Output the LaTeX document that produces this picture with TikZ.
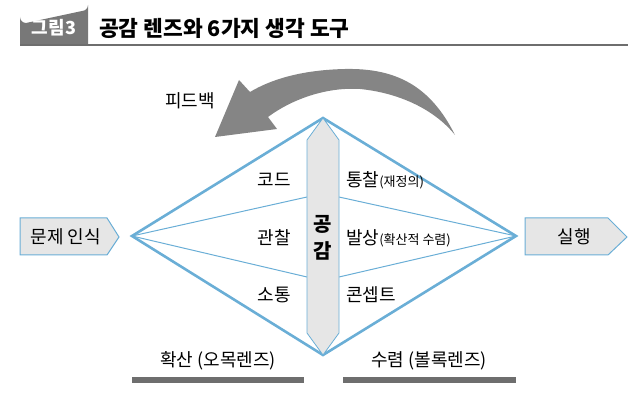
\documentclass[tikz,border=0pt]{standalone}
\usepackage{fontspec}
\setmainfont{Noto Sans CJK KR}
\definecolor{lensblue}{HTML}{6AAED6}
\definecolor{boxgray}{HTML}{E6E6E6}
\definecolor{arrowgray}{HTML}{858585}
\definecolor{tabgray}{HTML}{787878}
\definecolor{bargray}{HTML}{6E6E6E}
\newcommand\smalltxt{\fontsize{13}{15}\selectfont}
\tikzset{
  lbl/.style={inner sep=0pt, font=\fontsize{18}{20}\selectfont},
  sidebox/.style={fill=boxgray, draw=lensblue, line width=1pt},
  outerline/.style={draw=lensblue, line width=2.6pt, line join=miter},
  innerline/.style={draw=lensblue, line width=1pt},
  underbar/.style={draw=bargray, line width=6pt},
}
\begin{document}
\begin{tikzpicture}[x=1pt,y=-1pt]
\useasboundingbox (0,0) rectangle (640,414);
% title
\fill[tabgray] (20,44) -- (20,17) arc[start angle=180,end angle=90,radius=6] -- (82,11) arc[start angle=90,end angle=0,radius=6] -- (88,44) -- cycle;
\node[inner sep=0pt, text=white, font=\fontsize{18}{20}\selectfont\bfseries] (tab) at (54,28) {그림3};
\node[inner sep=0pt, anchor=west, font=\fontsize{21.5}{24}\selectfont\bfseries] (title) at (99,28) {공감 렌즈와 6가지 생각 도구};
\draw[draw=bargray, line width=1.6pt] (20,45) coordinate (tl) -- (628,45) coordinate (tr);
% diamond coordinates
\coordinate (L) at (132,236);
\coordinate (T) at (323,118);
\coordinate (R) at (516,236);
\coordinate (B) at (323,355);
\coordinate (ul) at (307,197);
\coordinate (bl) at (307,277);
\coordinate (ur) at (339,197);
\coordinate (br) at (339,277);
% feedback arrow
\fill[arrowgray] (455,135) .. controls (430,85) and (395,68) .. (345,69)
  .. controls (300,70) and (270,80) .. (250,92)
  -- (239,80) -- (215,137) -- (277,129) -- (268,117)
  .. controls (295,97) and (330,87) .. (360,89)
  .. controls (400,93) and (435,110) .. (455,135) -- cycle;
\node[lbl] (fb) at (190,101) {피드백};
% inner lines
\draw[innerline] (L) -- (ul);
\draw[innerline] (L) -- (bl);
\draw[innerline] (R) -- (ur);
\draw[innerline] (R) -- (br);
% outer diamond
\draw[outerline] (L) -- (T) -- (R) -- (B) -- cycle;
% central bar
\draw[fill=boxgray, draw=lensblue, line width=0.8pt] (T) -- (339,140) -- (339,333) -- (B) -- (307,333) -- (307,140) -- cycle;
\node[inner sep=0pt, font=\fontsize{20}{22}\selectfont\bfseries] (gong) at (323,224) {공};
\node[inner sep=0pt, font=\fontsize{20}{22}\selectfont\bfseries] (gam) at (323,251) {감};
% labels
\node[lbl] (code) at (274,180) {코드};
\node[lbl] (obs) at (274,238) {관찰};
\node[lbl] (comm) at (274,295) {소통};
\node[lbl, anchor=west] (insight) at (346,180) {통찰{\smalltxt(재정의)}};
\node[lbl, anchor=west] (idea) at (346,238) {발상{\smalltxt(확산적 수렴)}};
\node[lbl, anchor=west] (concept) at (346,295) {콘셉트};
% side boxes
\draw[sidebox] (20,218) -- (107,218) -- (119,237) -- (107,255) -- (20,255) -- cycle;
\node[lbl] (prob) at (66,237) {문제 인식};
\draw[sidebox] (525,218) -- (608,218) -- (627,237) -- (608,255) -- (525,255) -- cycle;
\node[lbl] (act) at (574,237) {실행};
% bottom
\node[lbl] (div) at (218,361) {확산 (오목렌즈)};
\node[lbl] (conv) at (429,361) {수렴 (볼록렌즈)};
\draw[underbar] (132,380) coordinate (b1) -- (304,380) coordinate (b2);
\draw[underbar] (343,380) coordinate (b3) -- (516,380) coordinate (b4);
\end{tikzpicture}
\end{document}
